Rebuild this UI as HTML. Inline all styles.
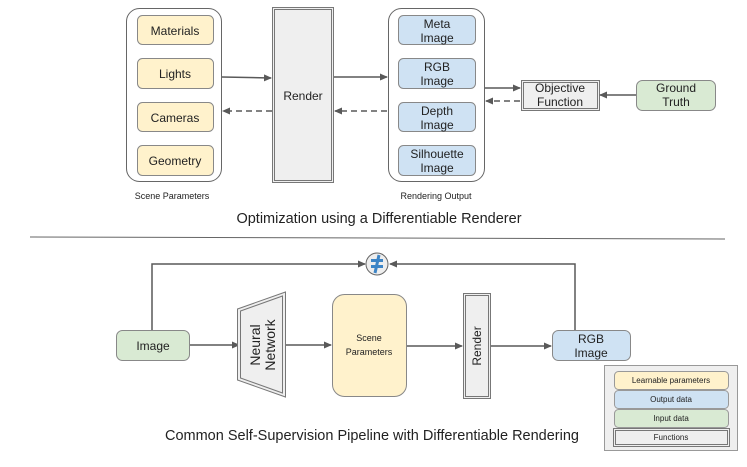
<!DOCTYPE html>
<html><head><meta charset="utf-8"><style>body{margin:0;background:#fff}svg{display:block;font-family:"Liberation Sans",Arial,sans-serif}</style></head><body>
<svg width="747" height="467" viewBox="0 0 747 467" xmlns="http://www.w3.org/2000/svg">
<defs><marker id="a" markerWidth="8" markerHeight="8" refX="7" refY="4" orient="auto" markerUnits="userSpaceOnUse"><path d="M0,0.5 L8,4 L0,7.5z" fill="#595959"/></marker></defs>
<g stroke="#666" stroke-width="1" >
<rect x="126.5" y="8.5" width="95" height="173" rx="13" fill="#fff"/>
<rect x="388.5" y="8.5" width="96" height="173" rx="13" fill="#fff"/>
</g>
<g stroke="#888" fill="#fff2cc">
<rect x="137.5" y="15.5" width="76" height="29" rx="5"/>
<rect x="137.5" y="58.5" width="76" height="30" rx="5"/>
<rect x="137.5" y="102.5" width="76" height="29" rx="5"/>
<rect x="137.5" y="145.5" width="76" height="30" rx="5"/>
</g>
<g stroke="#888" fill="#cfe2f3">
<rect x="398.5" y="15.5" width="77" height="29" rx="5"/>
<rect x="398.5" y="58.5" width="77" height="30" rx="5"/>
<rect x="398.5" y="102.5" width="77" height="29" rx="5"/>
<rect x="398.5" y="145.5" width="77" height="30" rx="5"/>
</g>
<rect x="272.5" y="7.5" width="61" height="175" fill="#efefef" stroke="#777" stroke-width="1"/>
<rect x="274.5" y="9.5" width="57" height="171" fill="none" stroke="#777"/>
<rect x="521.5" y="80.5" width="78" height="30" fill="#efefef" stroke="#777"/>
<rect x="523.5" y="82.5" width="74" height="26" fill="none" stroke="#777"/>
<rect x="636.5" y="80.5" width="79" height="30" rx="6" fill="#d9ead3" stroke="#888"/>
<g stroke="#595959" stroke-width="1.5" fill="none">
<line x1="222" y1="77" x2="271" y2="78" marker-end="url(#a)"/>
<line x1="272" y1="111" x2="223" y2="111" stroke-dasharray="6,4" marker-end="url(#a)"/>
<line x1="334" y1="77" x2="387" y2="77" marker-end="url(#a)"/>
<line x1="387" y1="111" x2="335" y2="111" stroke-dasharray="6,4" marker-end="url(#a)"/>
<line x1="485" y1="88" x2="520" y2="88" marker-end="url(#a)"/>
<line x1="520" y1="101" x2="486" y2="101" stroke-dasharray="6,4" marker-end="url(#a)"/>
<line x1="636" y1="95" x2="600" y2="95" marker-end="url(#a)"/>
</g>
<g font-size="12" fill="#222" text-anchor="middle">
<text x="175" y="35">Materials</text><text x="175" y="78">Lights</text><text x="175" y="122">Cameras</text><text x="175" y="165">Geometry</text>
<text x="437" y="28">Meta</text><text x="437" y="42">Image</text>
<text x="437" y="71">RGB</text><text x="437" y="85">Image</text>
<text x="437" y="115">Depth</text><text x="437" y="129">Image</text>
<text x="437" y="158">Silhouette</text><text x="437" y="172">Image</text>
<text x="303" y="100">Render</text>
<text x="560" y="92">Objective</text><text x="560" y="106">Function</text>
<text x="676" y="92">Ground</text><text x="676" y="106">Truth</text>
<text x="172" y="199" font-size="9">Scene Parameters</text>
<text x="436" y="199" font-size="9">Rendering Output</text>
<text x="379" y="223" font-size="14.5">Optimization using a Differentiable Renderer</text>
</g>
<line x1="30" y1="237" x2="725" y2="239" stroke="#666" stroke-width="1"/>
<g stroke="#595959" stroke-width="1.5" fill="none">
<polyline points="152,330 152,264 365,264" marker-end="url(#a)"/>
<polyline points="575,330 575,264 390,264" marker-end="url(#a)"/>
<line x1="190" y1="345" x2="239" y2="345" marker-end="url(#a)"/>
<line x1="284" y1="345" x2="331" y2="345" marker-end="url(#a)"/>
<line x1="407" y1="346" x2="462" y2="346" marker-end="url(#a)"/>
<line x1="491" y1="346" x2="551" y2="346" marker-end="url(#a)"/>
</g>
<circle cx="377" cy="264" r="11" fill="#eee" stroke="#666"/>
<path d="M371,259 h12 v3 h-12z M371,265 h12 v3 h-12z" fill="#3d85c6"/><path d="M379,255 l-4,18" stroke="#3d85c6" stroke-width="3"/>
<rect x="116.5" y="330.5" width="73" height="30" rx="6" fill="#d9ead3" stroke="#888"/>
<rect x="552.5" y="330.5" width="78" height="30" rx="6" fill="#cfe2f3" stroke="#888"/>
<path d="M237.5,309 L285.5,292 L285.5,397 L237.5,380z" fill="#efefef" stroke="#777"/>
<path d="M240.5,311 L282.5,296 L282.5,393 L240.5,378z" fill="none" stroke="#777"/>
<rect x="332.5" y="294.5" width="74" height="102" rx="12" fill="#fff2cc" stroke="#888"/>
<rect x="463.5" y="293.5" width="27" height="105" fill="#efefef" stroke="#777"/>
<rect x="465.5" y="295.5" width="23" height="101" fill="none" stroke="#777"/>
<g fill="#222" text-anchor="middle" font-size="12">
<text x="153" y="350">Image</text>
<text x="591" y="343">RGB</text><text x="591" y="357">Image</text>
<text x="369" y="341" font-size="9">Scene</text><text x="369" y="355" font-size="9">Parameters</text>
<text transform="translate(260,345) rotate(-90)" font-size="14">Neural</text>
<text transform="translate(275,345) rotate(-90)" font-size="14">Network</text>
<text transform="translate(481,346) rotate(-90)">Render</text>
<text x="372" y="440" font-size="14.5">Common Self-Supervision Pipeline with Differentiable Rendering</text>
</g>
<rect x="604.5" y="365.5" width="133" height="85" fill="#efefef" stroke="#999"/>
<rect x="614.5" y="371.5" width="114" height="18" rx="4" fill="#fff2cc" stroke="#999"/>
<rect x="614.5" y="390.5" width="114" height="18" rx="4" fill="#cfe2f3" stroke="#999"/>
<rect x="614.5" y="409.5" width="114" height="18" rx="4" fill="#d9ead3" stroke="#999"/>
<rect x="613.5" y="428.5" width="116" height="18" fill="#efefef" stroke="#777"/>
<rect x="615.5" y="430.5" width="112" height="14" fill="none" stroke="#777"/>
<g font-size="8" fill="#222" text-anchor="middle">
<text x="671" y="383">Learnable parameters</text>
<text x="671" y="402">Output data</text>
<text x="671" y="421">Input data</text>
<text x="671" y="440">Functions</text>
</g>
</svg>
</body></html>
